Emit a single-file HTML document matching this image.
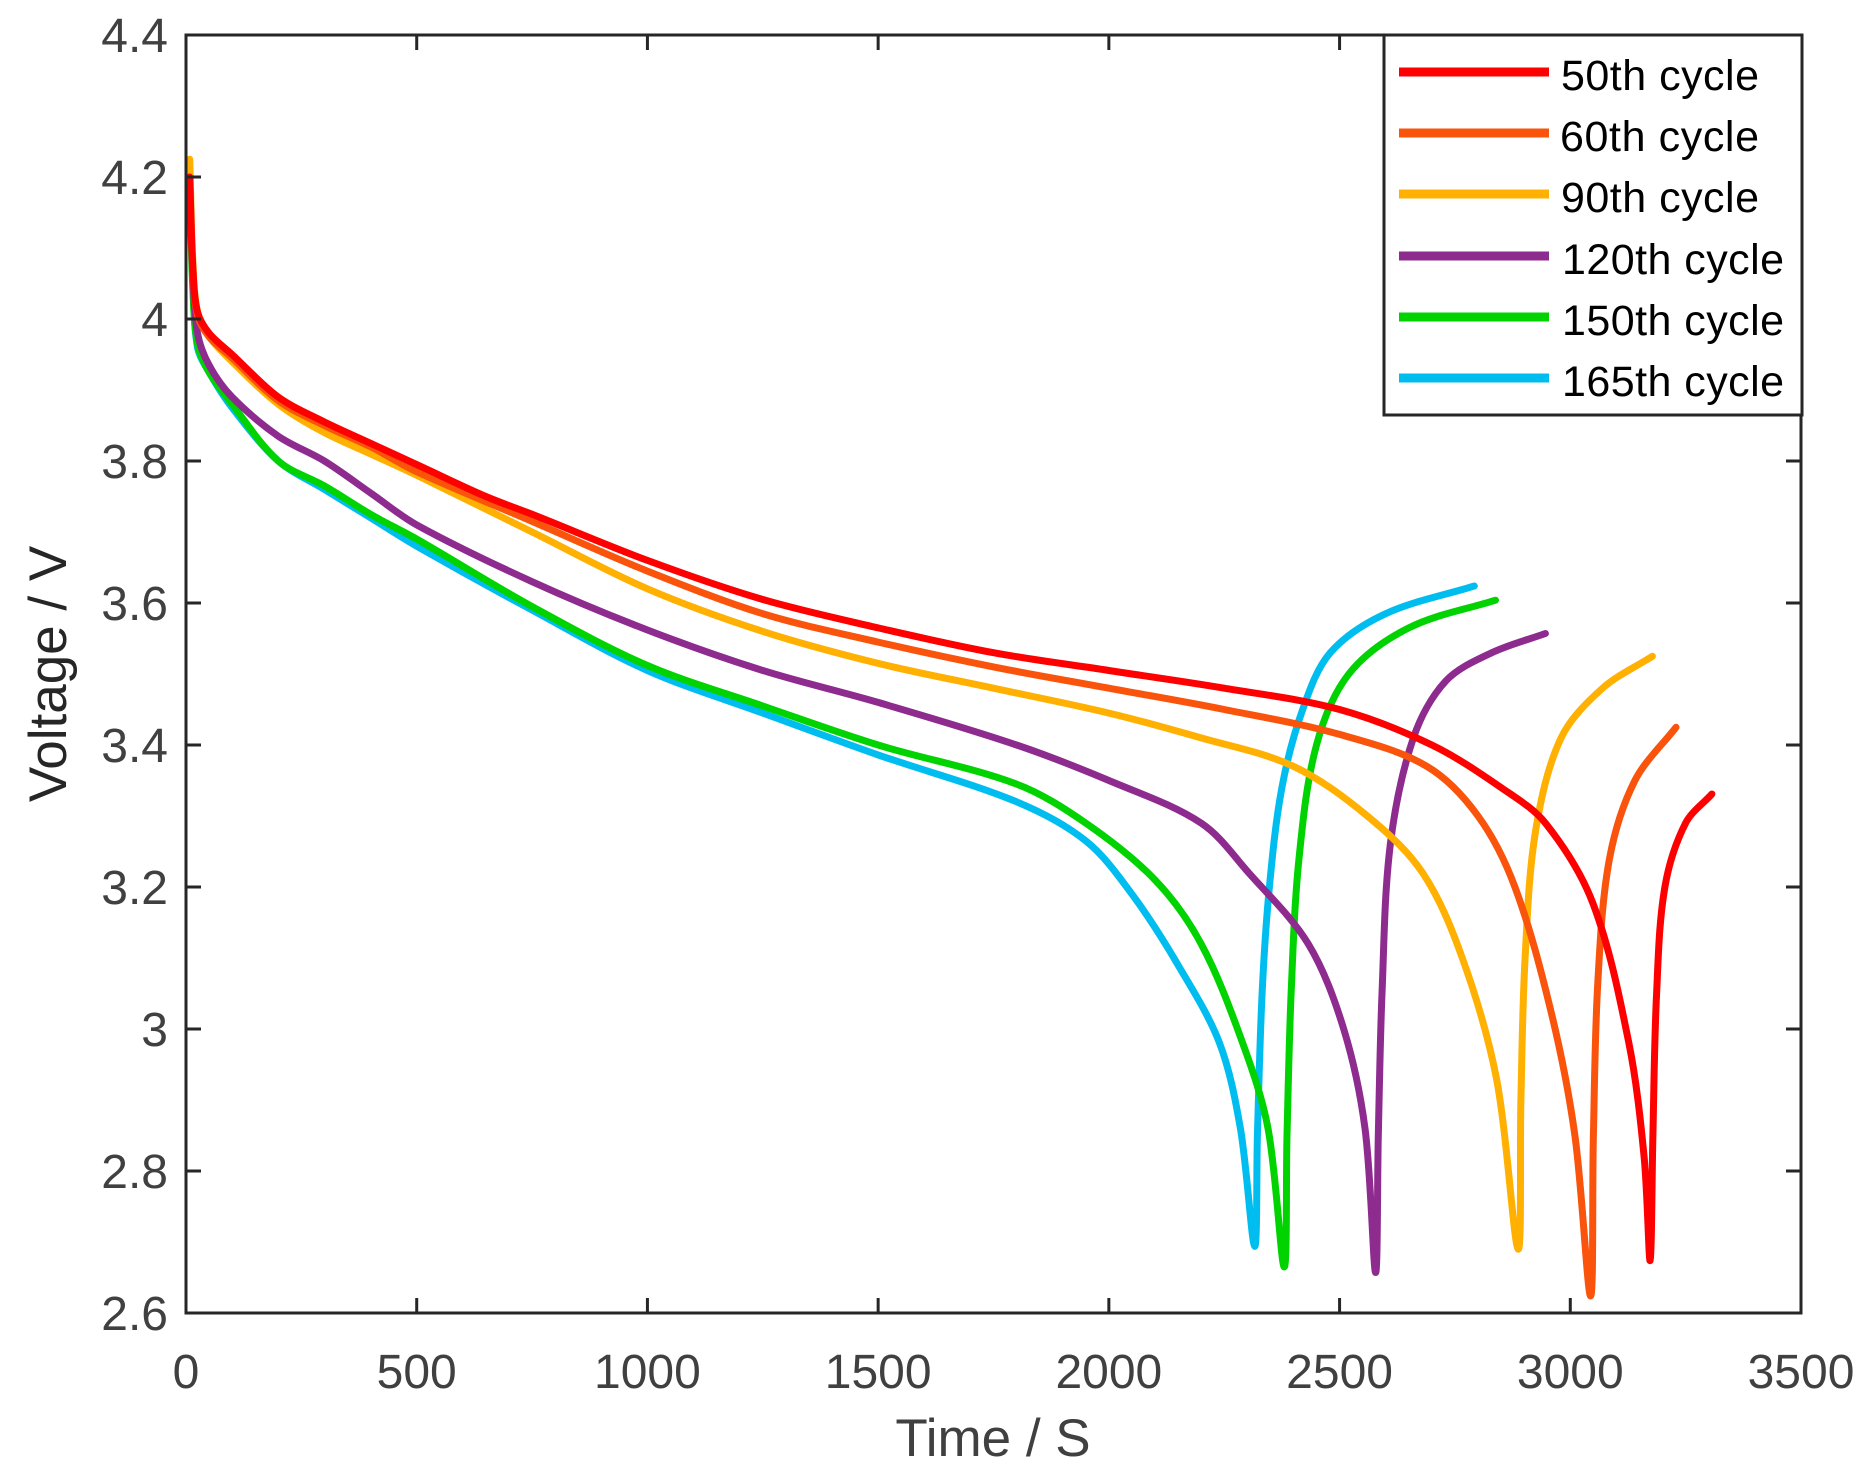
<!DOCTYPE html>
<html><head><meta charset="utf-8"><style>
html,body{margin:0;padding:0;background:#fff;}
svg{display:block;}
</style></head><body>
<svg id="s" width="1864" height="1469" xmlns="http://www.w3.org/2000/svg" font-family="'Liberation Sans', Arial, sans-serif">
<rect width="1864" height="1469" fill="#fff"/>
<g id="curves" fill="none" stroke-width="7" stroke-linejoin="round" stroke-linecap="round"></g>
<g id="axes" stroke="#262626" stroke-width="3" fill="none"></g>
<g id="labels" fill="#404040" font-size="48"></g>
<text x="993" y="1456" font-size="53" fill="#404040" text-anchor="middle">Time / S</text>
<text transform="translate(66,674) rotate(-90)" font-size="53" fill="#262626" text-anchor="middle">Voltage / V</text>
<g>
<rect x="1384" y="35" width="418" height="380" fill="#fff" stroke="#262626" stroke-width="3"/>
<g stroke-width="9">
<line x1="1399" y1="72" x2="1549" y2="72" stroke="#ff0000"/>
<line x1="1399" y1="133" x2="1549" y2="133" stroke="#f9530c"/>
<line x1="1399" y1="194" x2="1549" y2="194" stroke="#ffb000"/>
<line x1="1399" y1="256" x2="1549" y2="256" stroke="#8e2b8e"/>
<line x1="1399" y1="317" x2="1549" y2="317" stroke="#00d300"/>
<line x1="1399" y1="378" x2="1549" y2="378" stroke="#00bdf0"/>
</g>
<g font-size="43" fill="#000">
<text x="1561" y="90" textLength="198">50th cycle</text>
<text x="1560" y="151" textLength="199">60th cycle</text>
<text x="1561" y="212" textLength="198">90th cycle</text>
<text x="1562" y="274" textLength="222">120th cycle</text>
<text x="1562" y="335" textLength="222">150th cycle</text>
<text x="1562" y="396" textLength="222">165th cycle</text>
</g>
</g>
</svg>
<script>
var L=186,R=1801,T=35,B=1313;
function X(t){return L+(t/3500)*(R-L);}
function Y(v){return T+(4.4-v)/1.8*(B-T);}
var ax=document.getElementById('axes'),lb=document.getElementById('labels');
function el(p,tag,a,txt){var e=document.createElementNS('http://www.w3.org/2000/svg',tag);for(var k in a)e.setAttribute(k,a[k]);if(txt!==undefined)e.textContent=txt;p.appendChild(e);return e;}
el(ax,'rect',{x:L,y:T,width:R-L,height:B-T});
for(var t=0;t<=3500;t+=500){var x=X(t);
 if(t>0&&t<3500){el(ax,'line',{x1:x,y1:B,x2:x,y2:B-15});el(ax,'line',{x1:x,y1:T,x2:x,y2:T+15});}
 el(lb,'text',{x:x,y:1388,'text-anchor':'middle'},String(t));}
var vt=['2.6','2.8','3','3.2','3.4','3.6','3.8','4','4.2','4.4'];
for(var i=0;i<vt.length;i++){var v=2.6+0.2*i,y=Y(v);
 if(i>0&&i<9){el(ax,'line',{x1:L,y1:y,x2:L+15,y2:y});el(ax,'line',{x1:R,y1:y,x2:R-15,y2:y});}
 el(lb,'text',{x:168,y:y+17,'text-anchor':'end'},vt[i]);}
function dist(a,b){return Math.sqrt((a[0]-b[0])*(a[0]-b[0])+(a[1]-b[1])*(a[1]-b[1]));}
function path(pts){
 var P=pts.map(function(p){return [X(p[0]),Y(p[1])];});
 var n=P.length,M=[];
 for(var i=0;i<n;i++){
  var a=P[Math.max(0,i-1)],b=P[Math.min(n-1,i+1)];
  var d=dist(a,P[i])+dist(P[i],b)||1;
  M.push([(b[0]-a[0])/d,(b[1]-a[1])/d]);
 }
 var d='M'+P[0][0].toFixed(1)+' '+P[0][1].toFixed(1);
 for(var i=0;i<n-1;i++){
  var s=dist(P[i],P[i+1])/3;
  var c1=[P[i][0]+M[i][0]*s,P[i][1]+M[i][1]*s];
  var c2=[P[i+1][0]-M[i+1][0]*s,P[i+1][1]-M[i+1][1]*s];
  d+=' C'+c1[0].toFixed(1)+' '+c1[1].toFixed(1)+' '+c2[0].toFixed(1)+' '+c2[1].toFixed(1)+' '+P[i+1][0].toFixed(1)+' '+P[i+1][1].toFixed(1);
 }
 return d;}
var S={
'#00bdf0':[[8,4.2],[15,4.05],[25,3.96],[50,3.925],[100,3.875],[200,3.80],[300,3.76],[400,3.72],[500,3.68],[750,3.59],[1000,3.505],[1250,3.445],[1500,3.386],[1800,3.32],[1950,3.265],[2050,3.19],[2150,3.09],[2240,2.98],[2285,2.86],[2316,2.694],[2322,2.85],[2332,3.05],[2348,3.20],[2375,3.34],[2420,3.45],[2480,3.53],[2600,3.585],[2792,3.624]],
'#00d300':[[8,4.19],[15,4.04],[25,3.965],[50,3.925],[100,3.88],[200,3.80],[300,3.765],[400,3.725],[500,3.69],[750,3.595],[1000,3.512],[1250,3.455],[1500,3.40],[1800,3.345],[1950,3.29],[2100,3.21],[2200,3.12],[2290,2.98],[2345,2.86],[2380,2.665],[2386,2.85],[2395,3.05],[2412,3.24],[2450,3.40],[2520,3.50],[2650,3.565],[2838,3.604]],
'#8e2b8e':[[8,4.2],[15,4.06],[25,3.98],[50,3.935],[100,3.89],[200,3.835],[300,3.80],[400,3.755],[500,3.71],[750,3.63],[1000,3.562],[1250,3.505],[1500,3.46],[1800,3.40],[2000,3.35],[2200,3.29],[2303,3.22],[2432,3.12],[2509,3.00],[2555,2.86],[2578,2.657],[2584,2.85],[2592,3.05],[2610,3.26],[2660,3.41],[2730,3.49],[2830,3.53],[2946,3.557]],
'#ffb000':[[8,4.225],[15,4.08],[25,4.01],[50,3.975],[100,3.94],[200,3.88],[300,3.84],[400,3.81],[500,3.78],[750,3.70],[1000,3.62],[1250,3.56],[1500,3.515],[1750,3.48],[2000,3.445],[2200,3.41],[2400,3.37],[2560,3.30],[2680,3.22],[2766,3.10],[2840,2.93],[2887,2.69],[2893,2.90],[2902,3.10],[2925,3.28],[2980,3.41],[3070,3.48],[3178,3.525]],
'#f9530c':[[8,4.2],[15,4.07],[25,4.005],[50,3.975],[100,3.945],[200,3.885],[300,3.85],[400,3.82],[500,3.785],[750,3.715],[1000,3.645],[1250,3.585],[1500,3.545],[1750,3.51],[2000,3.48],[2250,3.45],[2500,3.415],[2689,3.37],[2800,3.30],[2880,3.20],[2960,3.02],[3010,2.85],[3044,2.624],[3050,2.85],[3060,3.07],[3085,3.24],[3140,3.35],[3229,3.425]],
'#ff0000':[[8,4.2],[15,4.07],[25,4.01],[50,3.98],[100,3.95],[200,3.89],[300,3.855],[400,3.825],[500,3.795],[650,3.75],[750,3.725],[1000,3.66],[1250,3.605],[1500,3.565],[1750,3.53],[2000,3.505],[2250,3.48],[2500,3.45],[2700,3.40],[2850,3.34],[2946,3.29],[3049,3.177],[3127,2.98],[3160,2.82],[3173,2.674],[3179,2.85],[3187,3.05],[3205,3.20],[3250,3.29],[3307,3.331]]
};
var g=document.getElementById('curves');
for(var c in S){el(g,'path',{d:path(S[c]),stroke:c});}
</script>
</body></html>
